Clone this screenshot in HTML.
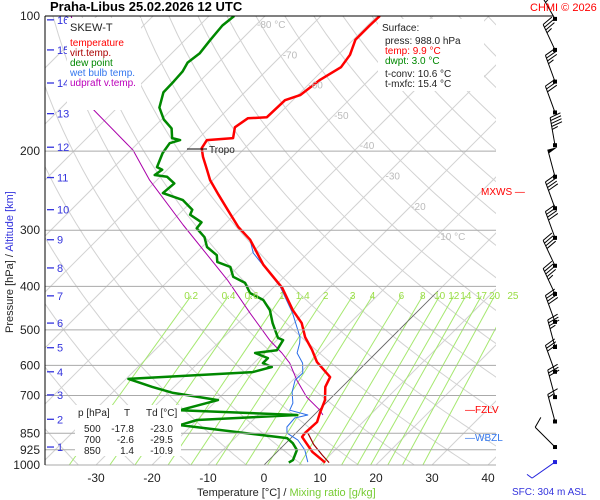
<!DOCTYPE html>
<html><head><meta charset="utf-8"><style>
html,body{margin:0;padding:0;background:#fff;}
svg{display:block;font-family:"Liberation Sans",sans-serif;}
</style></head><body>
<svg id="chart" width="600" height="500" viewBox="0 0 600 500">
<defs><clipPath id="plotclip"><rect x="45" y="16" width="451" height="449"/></clipPath></defs>
<rect x="0" y="0" width="600" height="500" fill="#fff"/>
<g id="grid" clip-path="url(#plotclip)"></g>
<g id="profiles" clip-path="url(#plotclip)"></g>
<g id="axes"></g>
<g id="winds"></g>

<text x="50" y="11" font-size="13" font-weight="bold">Praha-Libus    25.02.2026 12 UTC</text>
<text x="530" y="11" font-size="11" fill="#f00">CHMI © 2026</text>

<g>
<rect x="67" y="18" width="74" height="92" fill="#fff"/>
<text x="70" y="31" font-size="11" fill="#222">SKEW-T</text>
<text x="70" y="46" font-size="10" fill="#f00">temperature</text>
<text x="70" y="56" font-size="10" fill="#a00">virt.temp.</text>
<text x="70" y="66" font-size="10" fill="#080">dew point</text>
<text x="70" y="76" font-size="10" fill="#37e">wet bulb temp.</text>
<text x="70" y="86" font-size="10" fill="#b0b">udpraft v.temp.</text>
</g>

<g>
<rect x="378" y="19" width="106" height="72" fill="#fff"/>
<text x="382" y="31" font-size="10" fill="#222">Surface:</text>
<text x="385" y="44" font-size="10" fill="#222">press: 988.0 hPa</text>
<text x="385" y="54" font-size="10" fill="#f00">temp: 9.9 °C</text>
<text x="385" y="64" font-size="10" fill="#080">dwpt: 3.0 °C</text>
<text x="385" y="77" font-size="10" fill="#222">t-conv: 10.6 °C</text>
<text x="385" y="87" font-size="10" fill="#222">t-mxfc: 15.4 °C</text>
</g>

<g>
<rect x="75" y="405" width="106" height="51" fill="#fff"/>
<text x="78" y="416" font-size="10" fill="#222">p [hPa]</text>
<text x="124" y="416" font-size="10" fill="#222">T</text>
<text x="146" y="416" font-size="10" fill="#222">Td [°C]</text>
<text x="84" y="432" font-size="10" fill="#222">500</text><text x="134" y="432" font-size="10" text-anchor="end" fill="#222">-17.8</text><text x="173" y="432" font-size="10" text-anchor="end" fill="#222">-23.0</text>
<text x="84" y="443" font-size="10" fill="#222">700</text><text x="134" y="443" font-size="10" text-anchor="end" fill="#222">-2.6</text><text x="173" y="443" font-size="10" text-anchor="end" fill="#222">-29.5</text>
<text x="84" y="454" font-size="10" fill="#222">850</text><text x="134" y="454" font-size="10" text-anchor="end" fill="#222">1.4</text><text x="173" y="454" font-size="10" text-anchor="end" fill="#222">-10.9</text>
</g>

<g>
<line x1="187" y1="149" x2="207" y2="149" stroke="#000"/>
<text x="209" y="153" font-size="10" fill="#222">Tropo</text>
</g>
<text x="481" y="195" font-size="10" fill="#f00">MXWS —</text>
<text x="465" y="413" font-size="10" fill="#f00">—FZLV</text>
<text x="465" y="441" font-size="10" fill="#37e">—WBZL</text>

<text transform="translate(13,333) rotate(-90)" font-size="11"><tspan fill="#222">Pressure [hPa]  /  </tspan><tspan fill="#33d">Altitude [km]</tspan></text>
<text x="197" y="496" font-size="11"><tspan fill="#222">Temperature [°C]  /  </tspan><tspan fill="#7c3">Mixing ratio [g/kg]</tspan></text>
<text x="512" y="495" font-size="10" fill="#33d">SFC: 304 m ASL</text>

<script>
// ---- data ----
const isobars = [200,300,400,500,600,700,850,925,1000];
const pressureLabels = [100,200,300,400,500,600,700,850,925,1000];
const tempTicks = [-30,-20,-10,0,10,20,30,40];
const isothermLabels = [-80,-70,-60,-50,-40,-30,-20,-10];
const mixingRatios = [0.2,0.4,0.6,1,1.4,2,3,4,6,8,10,12,14,17,20,25];
const altKm = [1,2,3,4,5,6,7,8,9,10,11,12,13,14,15,16];
const altP = [912,791,698,620,548,483,420,364,315,270,229,196,165,141,119,102];

const tempP = [100,105,113,122,130,139,150,154,168,169,177,187,189,197,206,220,232,250,270,295,315,358,403,452,483,519,554,590,637,670,717,766,802,849,866,935,988];
const tempT = [-59.5,-59.6,-59.6,-57.9,-57.3,-58.8,-59.6,-61.4,-61.6,-64.8,-65.5,-63.9,-68.2,-67.7,-65.9,-62.9,-60.5,-56.4,-52.1,-47.1,-42.7,-35.9,-28.4,-22.5,-18.6,-15.5,-12.0,-8.9,-3.9,-3.0,-0.7,0.7,1.8,1.6,1.8,6.3,10.5];

const dewP = [100,105,113,121,127,133,140,148,160,170,178,187,189,192,202,217,220,226,228,236,248,257,270,277,288,297,311,327,341,353,362,381,393,414,429,452,483,521,527,555,563,578,593,605,621,643,670,691,717,755,774,794,815,871,894,926,975,988];
const dewT = [-85.5,-85.9,-85.5,-85,-85.5,-84.8,-84.6,-84.5,-82.5,-79.6,-76.6,-74.8,-73,-74.3,-73.8,-72.3,-70.9,-71.3,-68.8,-66.3,-66.6,-61.8,-58.4,-57.9,-54.5,-54.3,-51.3,-49.1,-45.9,-44.6,-41.4,-39.1,-35.9,-33.2,-29.6,-26.6,-23.8,-20.2,-18.9,-18.2,-21.6,-18.4,-18.4,-16.1,-18.6,-39.6,-33.9,-29.1,-19.8,-24.8,-3.0,-20,-22.1,-0.7,1.25,3.2,4.3,4.0];

const wetP = [315,337,368,401,459,519,535,563,593,624,647,688,728,755,774,786,823,849,880,926,985];
const wetT = [-42.7,-39.8,-34.3,-28.9,-22,-16.4,-15.4,-14.1,-11.3,-9.5,-9.6,-8.0,-5.9,-5.2,-1.1,-2.9,-2.7,-1.6,1.6,4.6,7.3];

const parcelP = [100,162,199,232,292,387,459,527,563,593,647,706,755,774];
const parcelT = [-114.6,-93.75,-79.6,-71.3,-57.3,-39.6,-29.6,-21.3,-16.8,-13.6,-9.3,-4.5,0.2,1.6];

const virtP = [850,900,950,988];
const virtT = [2.2,5.2,8.6,11.2];

const windP = [101.5,119,140,164,194,228,268,312,360,416,480,546,620,706,800,912,985];
const windDir = [330,335,340,340,350,345,340,340,335,335,340,345,340,345,345,315,235];
const windSpd = [35,35,35,30,45,50,40,40,40,45,40,35,30,30,15,10,5];

// ---- scales ----
const NS = 'http://www.w3.org/2000/svg';
function yP(p){ return 16 + 449*Math.log10(p/100); }
function xT(T,p){ return 264 + 5.6*T + (465 - yP(p)); }
function mk(tag, attrs, parent){
  const e = document.createElementNS(NS, tag);
  for (const k in attrs) e.setAttribute(k, attrs[k]);
  parent.appendChild(e); return e;
}
const grid = document.getElementById('grid');
const prof = document.getElementById('profiles');
const axes = document.getElementById('axes');
const winds = document.getElementById('winds');

for (let T=-140; T<=40; T+=10){
  const l = mk('line',{x1:xT(T,1000),y1:yP(1000),x2:xT(T,100),y2:yP(100),stroke:'#d2d2d2','stroke-width':1},grid);
  
  
}
for (let th=230; th<=500; th+=10){
  let d='';
  for (let p=1000; p>=100; p-=10){
    const T = th*Math.pow(p/1000,0.286)-273.15;
    d += (p===1000?'M':'L') + xT(T,p).toFixed(1) + ',' + yP(p).toFixed(1);
  }
  const a = mk('path',{d:d,fill:'none',stroke:'#d2d2d2','stroke-width':1},grid);
  
  
}
function tdFromW(w,p){ const e=w*p/(622+w); const L=Math.log(e/6.112); return 243.5*L/(17.67-L); }
mixingRatios.forEach(w=>{
  const m = mk('line',{x1:xT(tdFromW(w,1000),1000),y1:yP(1000),x2:xT(tdFromW(w,420),420),y2:yP(420),stroke:'#a6e870','stroke-width':1},grid);
  
  
  const t = mk('text',{x:xT(tdFromW(w,420),420),y:yP(420)+3,'font-size':10,fill:'#9d4','text-anchor':'middle'},axes);
  t.textContent = String(w);
  
  
});
{
  const z = mk('line',{x1:xT(0,1000),y1:yP(1000),x2:xT(0,410),y2:yP(410),stroke:'#666','stroke-width':0.8},grid);
  
  
}
isobars.forEach(p=>{
  const l = mk('line',{x1:45,y1:yP(p),x2:496,y2:yP(p),stroke:'#aaa','stroke-width':1},axes);
  
  
});
{
  const top = mk('line',{x1:45,y1:yP(100),x2:553,y2:yP(100),stroke:'#000','stroke-width':1},axes);
  
  
  const left = mk('line',{x1:45,y1:yP(100),x2:45,y2:yP(1000),stroke:'#000','stroke-width':1},axes);
  
  
}
isothermLabels.forEach(T=>{
  const y = 28 + (T+80)*3.03;
  const x = 264 + 5.6*T + (465 - y) + 4;
  const t = mk('text',{x:x,y:y,'font-size':10,fill:'#bbb'},axes);
  t.textContent = (T===-80||T===-10) ? (T+' °C') : String(T);
  
  
});
pressureLabels.forEach(p=>{
  const t = mk('text',{x:40,y:yP(p)+4,'font-size':12,fill:'#222','text-anchor':'end'},axes);
  t.textContent = String(p);
  
  
});
altKm.forEach((k,i)=>{
  const y = yP(altP[i]);
  const l = mk('line',{x1:47,y1:y,x2:54,y2:y,stroke:'#33d','stroke-width':1.3},axes);
  
  
  const t = mk('text',{x:57,y:y+4,'font-size':11,fill:'#33d'},axes);
  t.textContent = String(k);
  
  
});
tempTicks.forEach(T=>{
  const t = mk('text',{x:264+5.6*T,y:482,'font-size':12,fill:'#222','text-anchor':'middle'},axes);
  t.textContent = String(T);
  
  
});
function line(P,T,color,w,name){
  let d='';
  P.forEach((p,i)=>{ d += (i?'L':'M') + xT(T[i],p).toFixed(1) + ',' + yP(p).toFixed(1); });
  const e = mk('path',{d:d,fill:'none',stroke:color,'stroke-width':w,'stroke-linejoin':'round'},prof);
  
  
}
line(parcelP,parcelT,'#a0a',1,'updraft-virtual-temperature-line');
line(wetP,wetT,'#2a6ee8',1,'wet-bulb-line');
line(dewP,dewT,'#080',2.5,'dew-point-line');
line(virtP,virtT,'#900',1.2,'virtual-temperature-line');
line(tempP,tempT,'#f00',2.5,'temperature-line');
windP.forEach((p,i)=>{
  const x0 = 555, y0 = yP(p);
  const a = windDir[i]*Math.PI/180;
  const ux = Math.sin(a), uy = -Math.cos(a);
  const L = 28;
  const x1 = x0 + ux*L, y1 = y0 + uy*L;
  const last = (i===windP.length-1);
  const col = last ? '#22d' : '#000';
  const g = mk('g',{},winds);
  
  
  mk('line',{x1:x0,y1:y0,x2:x1,y2:y1,stroke:col,'stroke-width':1},g);
  mk('rect',{x:x0-2,y:y0-2,width:4,height:4,fill:col},g);
  const px = -uy, py = ux;
  let s = windSpd[i], pos = 0;
  while (s >= 50){ const bx=x1-ux*pos, by=y1-uy*pos;
    mk('polygon',{points:`${bx},${by} ${bx+px*10},${by+py*10} ${bx-ux*4},${by-uy*4}`,fill:col},g); pos+=5; s-=50; }
  while (s >= 10){ const bx=x1-ux*pos, by=y1-uy*pos;
    mk('line',{x1:bx,y1:by,x2:bx+px*11+ux*3,y2:by+py*11+uy*3,stroke:col,'stroke-width':1},g); pos+=3; s-=10; }
  if (s >= 5){ const bx=x1-ux*pos, by=y1-uy*pos;
    mk('line',{x1:bx,y1:by,x2:bx+px*6+ux*2,y2:by+py*6+uy*2,stroke:col,'stroke-width':1},g); }
});
</script>
</svg>
</body></html>
